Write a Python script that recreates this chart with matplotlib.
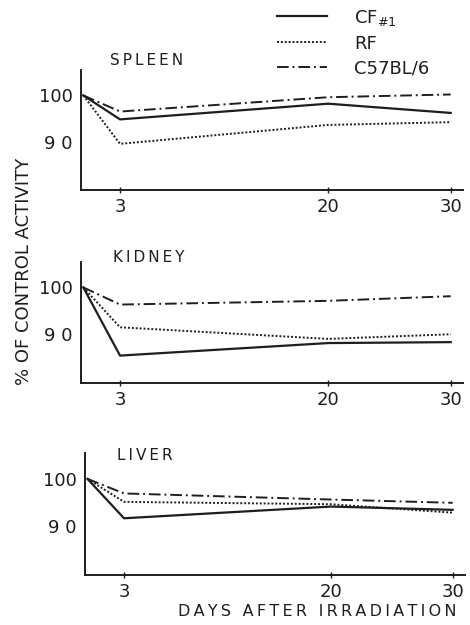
import matplotlib.pyplot as plt

# days after irradiation and % of control activity for each strain
days = [0, 3, 20, 30]

spleen_cf = [100, 94.8, 98.2, 96.2]
spleen_rf = [100, 89.5, 93.6, 94.2]
spleen_c57 = [100, 96.5, 99.6, 100.2]

kidney_cf = [100, 85.3, 88.0, 88.2]
kidney_rf = [100, 91.4, 88.9, 89.9]
kidney_c57 = [100, 96.3, 97.1, 98.1]

liver_cf = [100, 91.6, 94.1, 93.4]
liver_rf = [100, 95.1, 94.6, 92.8]
liver_c57 = [100, 96.9, 95.6, 94.9]

organs = ["SPLEEN", "KIDNEY", "LIVER"]
series = [
    (spleen_cf, spleen_rf, spleen_c57),
    (kidney_cf, kidney_rf, kidney_c57),
    (liver_cf, liver_rf, liver_c57),
]
strains = [r"CF$_{\#1}$", "RF", "C57BL/6"]

ink = "#1e1e1e"
styles = ["-", (0, (1, 1)), (0, (6, 2, 1, 2))]
widths = [1.6, 1.4, 1.4]


def spaced(s):
    # widen the lettering a little with thin spaces
    return "\u2009".join(s)


plt.rcParams["font.family"] = "DejaVu Sans"
plt.rcParams["mathtext.default"] = "regular"

fig = plt.figure(figsize=(4.7, 6.25), dpi=100)

# axes boxes in figure fractions: left, bottom, width, height
boxes = [
    [0.172, 0.696, 0.813, 0.192],
    [0.172, 0.388, 0.813, 0.193],
    [0.181, 0.080, 0.808, 0.195],
]
# where each organ name sits (axes fraction, baseline)
title_pos = [(0.076, 1.04), (0.084, 0.995), (0.084, 0.94)]

handles = []
for i, (name, vals, box) in enumerate(zip(organs, series, boxes)):
    ax = fig.add_axes(box)
    for v, ls, lw, lab in zip(vals, styles, widths, strains):
        ln, = ax.plot(days, v, color=ink, linestyle=ls, linewidth=lw, label=lab)
        if i == 0:
            handles.append(ln)
    ax.set_xlim(-0.2, 31)
    ax.set_ylim(79.5, 105.5)
    for s in ["top", "right"]:
        ax.spines[s].set_visible(False)
    for s in ["left", "bottom"]:
        ax.spines[s].set_color(ink)
        ax.spines[s].set_linewidth(1.4)
    ax.set_xticks([3, 20, 30])
    ax.set_xticklabels(["3", "20", "30"])
    ax.set_yticks([90, 100])
    ax.set_yticklabels(["9 0", "100"])
    ax.tick_params(axis="x", direction="inout", length=4, width=1, color=ink,
                   labelsize=13, labelcolor=ink, pad=4)
    ax.tick_params(axis="y", length=0, labelsize=13, labelcolor=ink, pad=6)
    tx, ty = title_pos[i]
    ax.text(tx, ty, spaced(name), transform=ax.transAxes, fontsize=11,
            color=ink, ha="left", va="baseline")

fig.legend(handles=handles, labels=strains, loc="upper left",
           bbox_to_anchor=(0.566, 1.005), frameon=False, fontsize=13,
           handlelength=2.8, handletextpad=1.5, labelspacing=0.38,
           borderpad=0.1, labelcolor=ink)

fig.text(0.051, 0.566, "% OF CONTROL ACTIVITY", rotation=90, fontsize=13,
         color=ink, ha="center", va="center")
fig.text(0.675, 0.021, spaced("DAYS AFTER IRRADIATION"), fontsize=11.5,
         color=ink, ha="center", va="center")

fig.savefig("out.png", dpi=100, facecolor="white")
